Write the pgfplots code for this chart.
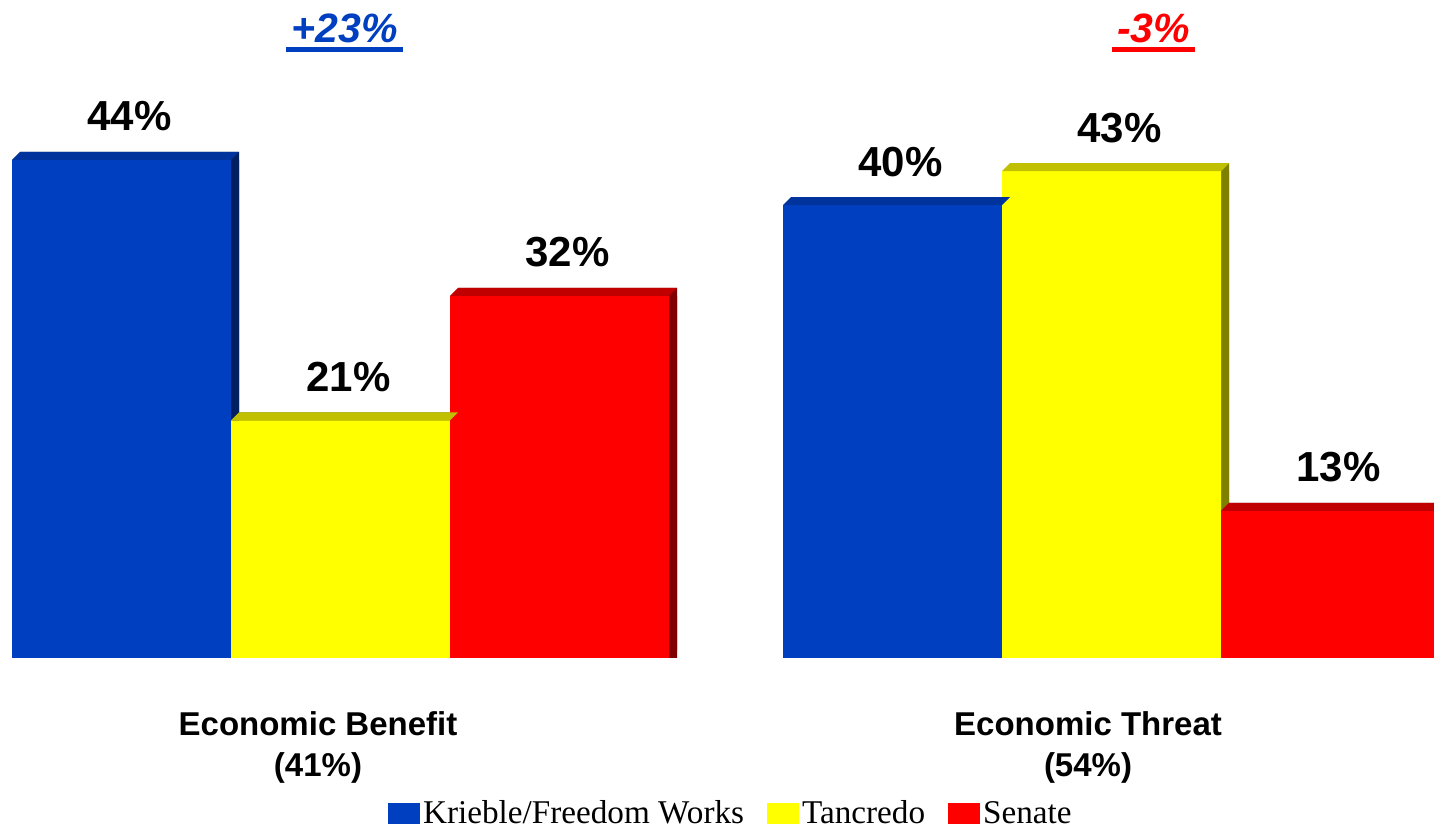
\documentclass[border=0pt]{standalone}
\usepackage{graphicx}
\usepackage{pgfplots}
\usepackage{pgfplotstable}
\pgfplotsset{compat=1.18}
\usepackage{fontspec}
\setmainfont{Liberation Sans}
\newfontfamily\legfont{Liberation Serif}

\definecolor{bF}{HTML}{0040C0}
\definecolor{bT}{HTML}{00339C}
\definecolor{bS}{HTML}{00205F}
\definecolor{yF}{HTML}{FFFF00}
\definecolor{yT}{HTML}{C0C000}
\definecolor{yS}{HTML}{808000}
\definecolor{rF}{HTML}{FF0000}
\definecolor{rT}{HTML}{C00000}
\definecolor{rS}{HTML}{800000}

% top face of a 3D bar (bar width 109.5pt, depth 4pt)
\pgfdeclareplotmark{topface}{%
  \pgfpathmoveto{\pgfpoint{-54.75pt}{0pt}}%
  \pgfpathlineto{\pgfpoint{-50.75pt}{4pt}}%
  \pgfpathlineto{\pgfpoint{58.75pt}{4pt}}%
  \pgfpathlineto{\pgfpoint{54.75pt}{0pt}}%
  \pgfpathclose
  \pgfusepathqfill}

\pgfplotstableread{
x y
121.5 44
892.5 40
}\bluedata
\pgfplotstableread{
x y
340.5 21
1111.5 43
}\yellowdata
\pgfplotstableread{
x y
559.5 32
1330.5 13
}\reddata

\pgfplotsset{
  back/.style={ybar, bar shift=0pt, bar width=219, fill=#1, draw=none, xshift=4pt, yshift=4pt, forget plot},
  backlow/.style={ybar, bar shift=0pt, bar width=219, fill=#1, draw=none, xshift=4pt, forget plot},
  top/.style={only marks, mark=topface, color=#1, forget plot},
  front/.style={ybar, bar shift=0pt, bar width=219, fill=#1, draw=none,
    nodes near coords={\pgfmathprintnumber{\pgfplotspointmeta}\%},
    every node near coord/.append style={font=\bfseries\fontsize{21}{24}\selectfont, text=black, anchor=base, yshift=14.5pt, xshift=4pt},
    legend image code/.code={\fill[##1, draw=none] (0pt,-5pt) rectangle (16pt,5.5pt);}},
}

\begin{document}
\begin{tikzpicture}
\begin{axis}[name=ax, x=0.5pt, y=5.66pt, xmin=0, xmax=1434, ymin=-15.548, ymax=58.127,
  hide axis, clip=true,
  /pgf/number format/assume math mode=true,
  legend columns=3, legend cell align=left,
  legend style={draw=none, fill=none, at={(0.51,0.024)}, anchor=center,
    font=\legfont\fontsize{16.6}{18}\selectfont,
    /tikz/every even column/.append style={column sep=10pt},
    inner sep=0pt, nodes={inner sep=1.5pt}},
]
% blue
\addplot[backlow=bS] table[x=x,y=y] {\bluedata};
\addplot[back=bS] table[x=x,y=y] {\bluedata};
\addplot[top=bT] table[x=x,y=y] {\bluedata};
\addplot[front=bF] table[x=x,y=y] {\bluedata};
\addlegendentry{Krieble/Freedom Works}
% yellow
\addplot[backlow=yS] table[x=x,y=y] {\yellowdata};
\addplot[back=yS] table[x=x,y=y] {\yellowdata};
\addplot[top=yT] table[x=x,y=y] {\yellowdata};
\addplot[front=yF] table[x=x,y=y] {\yellowdata};
\addlegendentry{Tancredo}
% red
\addplot[backlow=rS] table[x=x,y=y] {\reddata};
\addplot[back=rS] table[x=x,y=y] {\reddata};
\addplot[top=rT] table[x=x,y=y] {\reddata};
\addplot[front=rF] table[x=x,y=y] {\reddata};
\addlegendentry{Senate}

\node[align=center, font=\bfseries\fontsize{16.5}{20.5}\selectfont] at (axis cs:318,-7.9) {Economic Benefit\\(41\%)};
\node[align=center, font=\bfseries\fontsize{16.5}{20.5}\selectfont] at (axis cs:1088,-7.9) {Economic Threat\\(54\%)};

\node[anchor=base, inner xsep=2.5pt, font=\bfseries\itshape\fontsize{20.5}{24}\selectfont, text=bF] (t1) at (axis cs:344.5,54.33) {+23\%};
\node[anchor=base, inner xsep=2.5pt, font=\bfseries\itshape\fontsize{20.5}{24}\selectfont, text=rF] (t2) at (axis cs:1153.5,54.33) {-3\%};
\end{axis}
\draw[bF, line width=2.5pt] ([yshift=-3.25pt]t1.base west) -- ([yshift=-3.25pt]t1.base east);
\draw[rF, line width=2.5pt] ([yshift=-3.25pt]t2.base west) -- ([yshift=-3.25pt]t2.base east);
\pgfresetboundingbox
\path (ax.south west) rectangle (ax.north east);
\end{tikzpicture}
\end{document}
